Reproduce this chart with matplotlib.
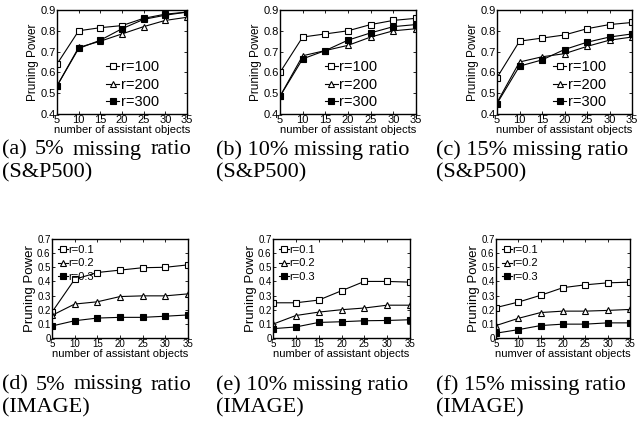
import matplotlib
matplotlib.use('Agg')
from matplotlib import pyplot as plt
from matplotlib.ticker import FuncFormatter

# x values: number of assistant objects
n_obj = [5, 10, 15, 20, 25, 30, 35]

# S&P500, r = 100 / 200 / 300
sp_labels = ['r=100', 'r=200', 'r=300']
sp_a = [[0.64, 0.80, 0.815, 0.825, 0.86, 0.88, 0.89],
        [0.535, 0.72, 0.75, 0.785, 0.82, 0.85, 0.865],
        [0.535, 0.715, 0.755, 0.81, 0.855, 0.875, 0.89]]
sp_b = [[0.60, 0.77, 0.785, 0.80, 0.83, 0.85, 0.86],
        [0.485, 0.68, 0.705, 0.73, 0.77, 0.80, 0.81],
        [0.485, 0.665, 0.705, 0.755, 0.79, 0.82, 0.83]]
sp_c = [[0.575, 0.75, 0.765, 0.78, 0.81, 0.83, 0.84],
        [0.455, 0.65, 0.675, 0.69, 0.725, 0.755, 0.77],
        [0.45, 0.63, 0.66, 0.71, 0.745, 0.77, 0.785]]

# IMAGE, r = 0.1 / 0.2 / 0.3
im_labels = ['r=0.1', 'r=0.2', 'r=0.3']
im_d = [[0.183, 0.415, 0.463, 0.48, 0.497, 0.50, 0.517],
        [0.16, 0.24, 0.256, 0.293, 0.298, 0.298, 0.312],
        [0.085, 0.122, 0.141, 0.146, 0.146, 0.154, 0.163]]
im_e = [[0.249, 0.249, 0.268, 0.334, 0.40, 0.40, 0.395],
        [0.098, 0.159, 0.183, 0.20, 0.212, 0.232, 0.232],
        [0.066, 0.078, 0.11, 0.115, 0.122, 0.124, 0.129]]
im_f = [[0.215, 0.254, 0.302, 0.356, 0.376, 0.39, 0.395],
        [0.088, 0.139, 0.18, 0.19, 0.19, 0.195, 0.202],
        [0.034, 0.059, 0.088, 0.098, 0.098, 0.107, 0.107]]

W, H = 638, 426
plt.rcParams['font.family'] = ['Liberation Sans', 'DejaVu Sans']
fig = plt.figure(figsize=(W / 100, H / 100), dpi=100)

styles = [dict(marker='s', mfc='white'),
          dict(marker='^', mfc='white'),
          dict(marker='s', mfc='black')]


def px_axes(l, r, t, b):
    return fig.add_axes([l / W, 1 - b / H, (r - l) / W, (b - t) / H])


def draw(box, series, labels, top_row, xlabel, leg_x=0.84):
    ax = px_axes(*box)
    for vals, lab, st in zip(series, labels, styles):
        ax.plot(n_obj, vals, color='black', lw=0.8, ms=4.5, mec='black',
                mew=0.8, label=lab, **st)
    ax.set_xlim(5, 35)
    ax.set_xticks(n_obj)
    if top_row:
        ax.set_ylim(0.4, 0.9)
        ax.set_yticks([0.4, 0.5, 0.6, 0.7, 0.8, 0.9])
        ax.set_ylabel('Pruning Power', fontsize=8.5, labelpad=1)
        ax.tick_params(labelsize=8)
        ax.legend(loc='lower right', bbox_to_anchor=(leg_x, -0.04), frameon=False,
                  fontsize=10.5, handlelength=0.9, handletextpad=0.1,
                  labelspacing=0.25, borderaxespad=0.2)
    else:
        ax.set_ylim(0, 0.7)
        ax.set_yticks([0, 0.1, 0.2, 0.3, 0.4, 0.5, 0.6, 0.7])
        ax.set_ylabel('Pruning Power', fontsize=9.5, labelpad=1)
        ax.tick_params(labelsize=7)
        ax.legend(loc='upper left', frameon=False, fontsize=8,
                  handlelength=0.9, handletextpad=0.1,
                  labelspacing=0.35, borderaxespad=0.1)
    ax.yaxis.set_major_formatter(FuncFormatter(lambda v, p: '0' if v == 0 else '%g' % v))
    ax.tick_params(direction='in', top=True, right=True, length=2.5, pad=1, width=0.6)
    ax.set_xlabel(xlabel, fontsize=8, labelpad=0)
    for s in ax.spines.values():
        s.set_linewidth(1.0)
    return ax


xl = 'number of assistant objects'
draw((57, 187, 10, 114), sp_a, sp_labels, True, xl, 0.85)
draw((280, 416, 10, 114), sp_b, sp_labels, True, xl, 0.78)
draw((497, 632, 10, 114), sp_c, sp_labels, True, xl, 0.87)
draw((52, 188, 239, 338), im_d, im_labels, False, xl)
draw((273, 410, 239, 338), im_e, im_labels, False, xl)
draw((496, 630, 239, 338), im_f, im_labels, False, 'numver of assistant objects')

cap_font = dict(family='Liberation Serif', fontsize=16, va='center')


def justify(words, x0, x1, y):
    texts = [fig.text(0, 1 - y / H, w, ha='left', **cap_font) for w in words]
    fig.canvas.draw()
    rend = fig.canvas.get_renderer()
    widths = [t.get_window_extent(rend).width for t in texts]
    gap = (x1 - x0 - sum(widths)) / (len(words) - 1)
    x = x0
    for t, w in zip(texts, widths):
        t.set_x(x / W)
        x += w + gap


captions = [
    ('(a) 5% missing ratio', '(S&P500)', 2, 191, 150, 173, True),
    ('(b) 10% missing ratio', '(S&P500)', 216, 408, 150, 173, False),
    ('(c) 15% missing ratio', '(S&P500)', 436, 640, 150, 173, False),
    ('(d) 5% missing ratio', '(IMAGE)', 2, 191, 385, 408, True),
    ('(e) 10% missing ratio', '(IMAGE)', 216, 408, 385, 408, False),
    ('(f) 15% missing ratio', '(IMAGE)', 436, 640, 385, 408, False),
]
for first, second, x0, x1, y1, y2, just in captions:
    if just:
        justify(first.split(), x0, x1, y1)
    else:
        fig.text(x0 / W, 1 - y1 / H, first, ha='left', **cap_font)
    fig.text(x0 / W, 1 - y2 / H, second, ha='left', **cap_font)

fig.savefig('out.png', dpi=100)
